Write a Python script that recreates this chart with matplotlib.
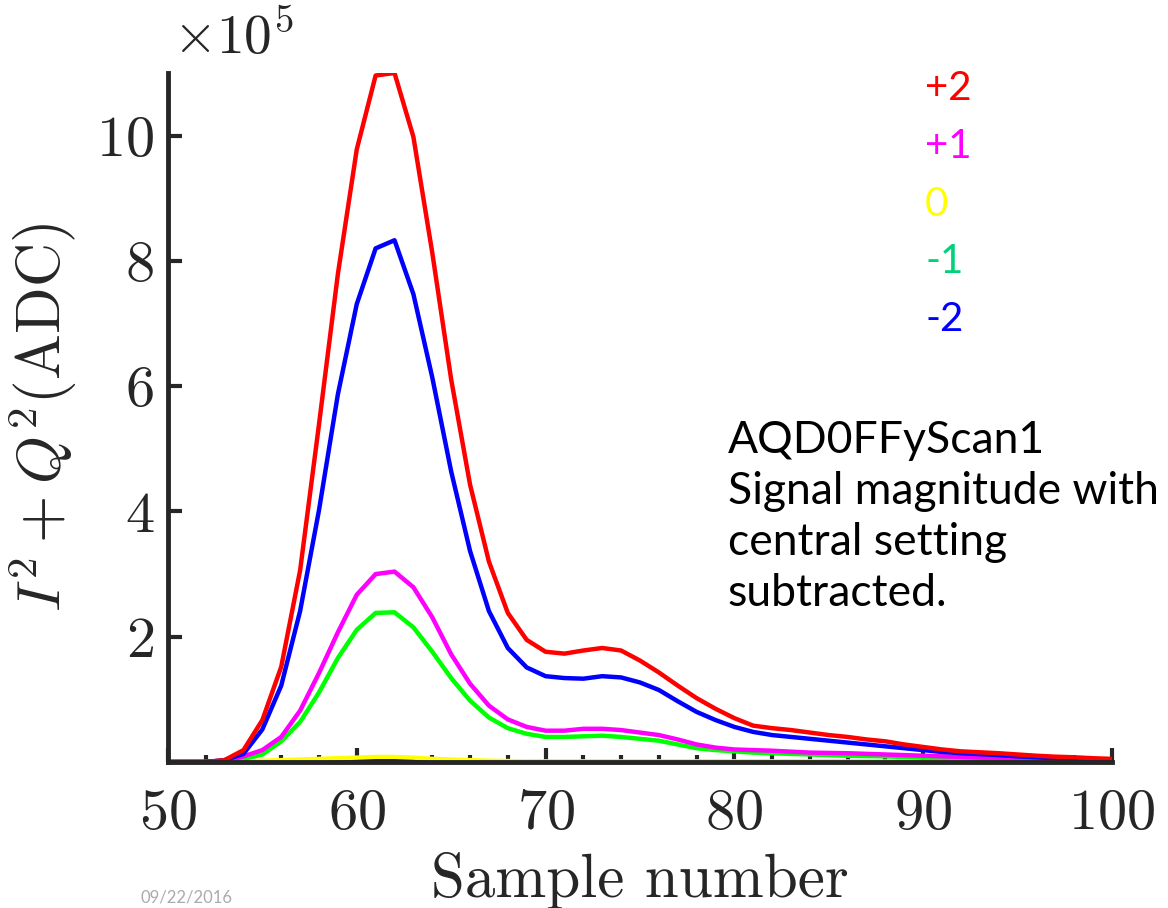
import matplotlib
matplotlib.use("Agg")
import matplotlib.pyplot as plt
from matplotlib.ticker import MultipleLocator, ScalarFormatter

# sample numbers 50..100
samples = list(range(50, 101))

# I^2+Q^2 values, in units of 1e5 ADC
red = [0, 0, 0, 0.03, 0.19, 0.67, 1.52, 3.06, 5.39, 7.79,
       9.78, 10.96, 11.0, 9.98, 8.13, 6.11, 4.43, 3.2, 2.38, 1.95,
       1.76, 1.73, 1.78, 1.82, 1.78, 1.62, 1.43, 1.22, 1.02, 0.85,
       0.70, 0.58, 0.54, 0.51, 0.47, 0.43, 0.40, 0.36, 0.33, 0.28,
       0.24, 0.20, 0.17, 0.155, 0.14, 0.12, 0.10, 0.085, 0.075, 0.06, 0.05]
blue = [0, 0, 0, 0.03, 0.13, 0.52, 1.22, 2.41, 4.02, 5.87,
        7.31, 8.2, 8.33, 7.47, 6.14, 4.64, 3.37, 2.41, 1.82, 1.51,
        1.37, 1.34, 1.33, 1.37, 1.35, 1.27, 1.15, 0.97, 0.80, 0.67,
        0.56, 0.48, 0.43, 0.40, 0.37, 0.34, 0.31, 0.28, 0.25, 0.22,
        0.19, 0.16, 0.14, 0.125, 0.11, 0.09, 0.075, 0.06, 0.05, 0.04, 0.03]
magenta = [0, 0, 0, 0.01, 0.09, 0.19, 0.40, 0.82, 1.42, 2.07,
           2.67, 3.0, 3.04, 2.79, 2.31, 1.72, 1.25, 0.90, 0.68, 0.56,
           0.50, 0.50, 0.53, 0.53, 0.51, 0.47, 0.43, 0.36, 0.28, 0.23,
           0.20, 0.19, 0.18, 0.165, 0.15, 0.145, 0.14, 0.13, 0.12, 0.11,
           0.10, 0.09, 0.08, 0.07, 0.06, 0.055, 0.05, 0.04, 0.03, 0.025, 0.02]
green = [0, 0, 0, 0, 0.05, 0.12, 0.33, 0.64, 1.11, 1.66,
         2.11, 2.38, 2.39, 2.15, 1.76, 1.34, 0.98, 0.71, 0.54, 0.45,
         0.40, 0.40, 0.41, 0.42, 0.40, 0.37, 0.34, 0.28, 0.22, 0.19,
         0.17, 0.15, 0.14, 0.13, 0.12, 0.11, 0.10, 0.095, 0.09, 0.08,
         0.07, 0.065, 0.06, 0.055, 0.05, 0.04, 0.03, 0.03, 0.03, 0.025, 0.02]
yellow = [0, 0, 0, 0, 0.01, 0.02, 0.03, 0.04, 0.05, 0.06,
          0.07, 0.08, 0.08, 0.07, 0.05, 0.04, 0.03, 0.02, 0.015, 0.012,
          0.01, 0.01, 0.01, 0.01, 0.01, 0.01, 0.01, 0.01, 0.01, 0.01,
          0.01, 0.01, 0.01, 0.01, 0.01, 0.008, 0.008, 0.008, 0.008, 0.008,
          0.006, 0.006, 0.006, 0.006, 0.005, 0.005, 0.005, 0.004, 0.004, 0.003, 0.003]
black = [0, 0, 0, 0, 0, 0.005, 0.01, 0.015, 0.02, 0.03,
         0.035, 0.04, 0.04, 0.035, 0.025, 0.015, 0.01, 0.005, 0, 0,
         0, 0, 0, 0, 0, 0, 0, 0, 0, 0,
         0, 0, 0, 0, 0, 0, 0, 0, 0, 0,
         0, 0, 0, 0, 0, 0, 0, 0, 0, 0, 0]

series_labels = ["+2", "+1", "0", "-1", "-2"]
label_colors = ["#ff0000", "#ff00ff", "#ffff00", "#00d27a", "#0000ff"]

plt.rcParams['font.family'] = 'serif'
plt.rcParams['font.serif'] = ['cmr10']
plt.rcParams['mathtext.fontset'] = 'cm'
plt.rcParams['axes.formatter.use_mathtext'] = True

fig = plt.figure(figsize=(11.68, 9.08), dpi=100)
ax = fig.add_axes([0.1438, 0.1608, 0.8082, 0.7588])

scale = 1e5
ax.plot(samples, [v * scale for v in black], color='black', lw=3.2)
ax.plot(samples, [v * scale for v in yellow], color='#ffff00', lw=3.2)
ax.plot(samples, [v * scale for v in green], color='#00ff00', lw=3.2)
ax.plot(samples, [v * scale for v in magenta], color='#ff00ff', lw=3.2)
ax.plot(samples, [v * scale for v in blue], color='#0000ff', lw=3.2)
ax.plot(samples, [v * scale for v in red], color='#ff0000', lw=3.2)

ax.set_xlim(50, 100)
ax.set_ylim(0, 11e5)
ax.set_xticks([50, 60, 70, 80, 90, 100])
ax.xaxis.set_minor_locator(MultipleLocator(2))
ax.set_yticks([2e5, 4e5, 6e5, 8e5, 10e5])

# fixed x10^5 multiplier, drawn by hand a bit higher than the default spot
fmt = ScalarFormatter(useMathText=True)
fmt.set_powerlimits((5, 5))
ax.yaxis.set_major_formatter(fmt)
ax.yaxis.get_offset_text().set_visible(False)
fig.text(0.148, 0.988, r'$\times10^{5}$', fontsize=40, color='#262626',
         va='top', ha='left')

for side in ['top', 'right']:
    ax.spines[side].set_visible(False)
for side in ['left', 'bottom']:
    ax.spines[side].set_linewidth(3.5)
    ax.spines[side].set_color('#262626')

ax.tick_params(which='major', direction='in', length=10, width=3,
               labelsize=42, colors='#262626', pad=10)
ax.tick_params(which='minor', direction='in', length=5, width=3, colors='#262626')
ax.tick_params(axis='x', which='major', pad=19)
ax.tick_params(axis='y', which='minor', left=False)

ax.set_xlabel('Sample number', fontsize=44, color='#262626', labelpad=9)
ax.set_ylabel(r'$I^2+Q^2(\mathrm{ADC})$', fontsize=44, color='#262626', labelpad=12)

# colour key, top right
for i, (lab, col) in enumerate(zip(series_labels, label_colors)):
    fig.text(0.792, 0.902 - i * 0.0635, lab, color=col, fontsize=29,
             family='Lato', va='center', ha='left')

fig.text(0.623, 0.537,
         "AQD0FFyScan1\nSignal magnitude with\ncentral setting\nsubtracted.",
         fontsize=32, family='Lato', va='top', ha='left', linespacing=1.3,
         color='black')

fig.text(0.12, 0.003, "09/22/2016", fontsize=12, color='#aaaaaa',
         family='Lato', va='bottom', ha='left')

fig.savefig('out.png', dpi=100)
